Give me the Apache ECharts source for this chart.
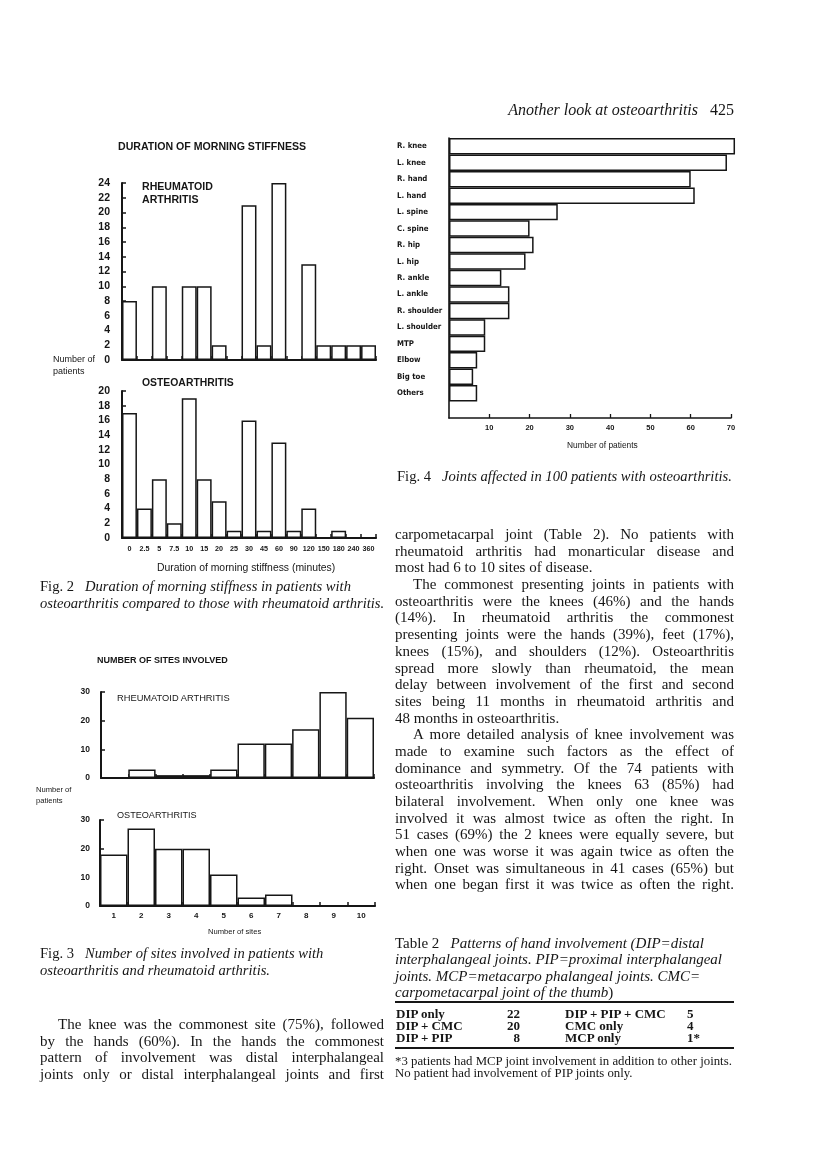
<!DOCTYPE html>
<html><head><meta charset="utf-8">
<script src="https://cdn.jsdelivr.net/npm/echarts@6/dist/echarts.min.js"></script>
<style>
html,body{margin:0;padding:0;background:#fff;}
#page{position:relative;width:816px;height:1155px;overflow:hidden;background:#fff;}
#chart{position:absolute;left:0;top:0;width:816px;height:1155px;}
.t{position:absolute;white-space:nowrap;color:#161616;}
.sans{font-family:'Liberation Sans',Arial,sans-serif;}
.serif{font-family:'Liberation Serif','Times New Roman',serif;}
.col{position:absolute;font-family:'Liberation Serif','Times New Roman',serif;font-size:15px;color:#161616;}
.col div{height:16.7px;line-height:16.7px;white-space:nowrap;}
.col div span{display:inline-block;transform-origin:0 50%;}
.col div.ind span{margin-left:18px;}
i{font-style:italic;}
.rule{position:absolute;background:#161616;}
</style>
</head><body>
<div id="page">
<div id="chart"></div>

<!-- running head -->
<div class="t serif" style="right:82px;top:101px;font-size:16px;line-height:18px;"><i>Another look at osteoarthritis</i>&nbsp;&nbsp;&nbsp;425</div>

<!-- Fig 2 texts -->
<div class="t sans" style="left:118px;top:140px;font-size:10.6px;font-weight:bold;line-height:12px;">DURATION OF MORNING STIFFNESS</div>
<div class="t sans" style="left:142px;top:180px;font-size:10.6px;font-weight:bold;line-height:12.5px;">RHEUMATOID<br>ARTHRITIS</div>
<div class="t sans" style="left:53px;top:353px;font-size:9px;line-height:12px;">Number of<br>patients</div>
<div class="t sans" style="left:142px;top:377px;font-size:10.4px;font-weight:bold;line-height:12px;">OSTEOARTHRITIS</div>
<div class="t sans" style="left:157px;top:562px;font-size:10.4px;line-height:12px;">Duration of morning stiffness (minutes)</div>
<div class="t serif" style="left:40px;top:578px;font-size:14.6px;line-height:16.7px;">Fig. 2&nbsp;&nbsp;&nbsp;<i>Duration of morning stiffness in patients with</i><br><i>osteoarthritis compared to those with rheumatoid arthritis.</i></div>

<!-- Fig 3 texts -->
<div class="t sans" style="left:97px;top:654px;font-size:9px;font-weight:bold;line-height:12px;">NUMBER OF SITES INVOLVED</div>
<div class="t sans" style="left:117px;top:692px;font-size:9.3px;line-height:12px;">RHEUMATOID ARTHRITIS</div>
<div class="t sans" style="left:36px;top:784px;font-size:7.6px;line-height:11px;">Number of<br>patients</div>
<div class="t sans" style="left:117px;top:809px;font-size:9.1px;line-height:12px;">OSTEOARTHRITIS</div>
<div class="t sans" style="left:208px;top:926px;font-size:7.6px;line-height:12px;">Number of sites</div>
<div class="t serif" style="left:40px;top:945px;font-size:14.6px;line-height:16.7px;">Fig. 3&nbsp;&nbsp;&nbsp;<i>Number of sites involved in patients with</i><br><i>osteoarthritis and rheumatoid arthritis.</i></div>

<!-- Fig 4 texts -->
<div class="t sans" style="left:567px;top:439px;font-size:8.4px;line-height:12px;">Number of patients</div>
<div class="t serif" style="left:397px;top:468px;font-size:14.6px;line-height:17px;">Fig. 4&nbsp;&nbsp;&nbsp;<i>Joints affected in 100 patients with osteoarthritis.</i></div>

<!-- Left column text -->
<div class="col" style="left:40px;top:1016px;width:344px;">
<div class="ind"><span>The knee was the commonest site (75%), followed</span></div>
<div><span>by the hands (60%). In the hands the commonest</span></div>
<div><span>pattern of involvement was distal interphalangeal</span></div>
<div><span>joints only or distal interphalangeal joints and first</span></div>
</div>

<!-- Right column text -->
<div class="col" style="left:395px;top:526px;width:339px;">
<div><span>carpometacarpal joint (Table 2). No patients with</span></div>
<div><span>rheumatoid arthritis had monarticular disease and</span></div>
<div class="last"><span>most had 6 to 10 sites of disease.</span></div>
<div class="ind"><span>The commonest presenting joints in patients with</span></div>
<div><span>osteoarthritis were the knees (46%) and the hands</span></div>
<div><span>(14%). In rheumatoid arthritis the commonest</span></div>
<div><span>presenting joints were the hands (39%), feet (17%),</span></div>
<div><span>knees (15%), and shoulders (12%). Osteoarthritis</span></div>
<div><span>spread more slowly than rheumatoid, the mean</span></div>
<div><span>delay between involvement of the first and second</span></div>
<div><span>sites being 11 months in rheumatoid arthritis and</span></div>
<div class="last"><span>48 months in osteoarthritis.</span></div>
<div class="ind"><span>A more detailed analysis of knee involvement was</span></div>
<div><span>made to examine such factors as the effect of</span></div>
<div><span>dominance and symmetry. Of the 74 patients with</span></div>
<div><span>osteoarthritis involving the knees 63 (85%) had</span></div>
<div><span>bilateral involvement. When only one knee was</span></div>
<div><span>involved it was almost twice as often the right. In</span></div>
<div><span>51 cases (69%) the 2 knees were equally severe, but</span></div>
<div><span>when one was worse it was again twice as often the</span></div>
<div><span>right. Onset was simultaneous in 41 cases (65%) but</span></div>
<div><span>when one began first it was twice as often the right.</span></div>
</div>

<!-- Table 2 -->
<div class="t serif" style="left:395px;top:935px;font-size:15px;line-height:16.3px;">Table 2&nbsp;&nbsp;&nbsp;<i>Patterns of hand involvement (DIP=distal</i><br><i>interphalangeal joints. PIP=proximal interphalangeal</i><br><i>joints. MCP=metacarpo phalangeal joints. CMC=</i><br><i>carpometacarpal joint of the thumb</i>)</div>
<div class="rule" style="left:395px;top:1001px;width:339px;height:2px;"></div>
<div class="t serif" style="left:396px;top:1008px;font-size:13px;line-height:12px;font-weight:bold;">DIP only<br>DIP + CMC<br>DIP + PIP</div>
<div class="t serif" style="left:480px;width:40px;text-align:right;top:1008px;font-size:13px;line-height:12px;font-weight:bold;">22<br>20<br>8</div>
<div class="t serif" style="left:565px;top:1008px;font-size:13px;line-height:12px;font-weight:bold;">DIP + PIP + CMC<br>CMC only<br>MCP only</div>
<div class="t serif" style="left:687px;top:1008px;font-size:13px;line-height:12px;font-weight:bold;">5<br>4<br>1*</div>
<div class="rule" style="left:395px;top:1047px;width:339px;height:2px;"></div>
<div class="t serif" style="left:395px;top:1055px;font-size:12.8px;line-height:12px;">*3 patients had MCP joint involvement in addition to other joints.<br>No patient had involvement of PIP joints only.</div>
</div>

<script>
// ---- Data ----
const durationCats = ['0','2.5','5','7.5','10','15','20','25','30','45','60','90','120','150','180','240','360'];
const raDuration   = [8, 0, 10, 0, 10, 10, 2, 0, 21, 2, 24, 0, 13, 2, 2, 2, 2];
const oaDuration   = [17, 4, 8, 2, 19, 8, 5, 1, 16, 1, 13, 1, 4, 0, 1, 0, 0];
const siteCats = ['1','2','3','4','5','6','7','8','9','10'];
const raSites  = [0, 3, 1, 1, 3, 12, 12, 17, 30, 21];
const oaSites  = [18, 27, 20, 20, 11, 3, 4, 0, 0, 0];
const jointNames  = ['R. knee','L. knee','R. hand','L. hand','L. spine','C. spine','R. hip','L. hip','R. ankle','L. ankle','R. shoulder','L. shoulder','MTP','Elbow','Big toe','Others'];
const jointCounts = [71, 69, 60, 61, 27, 20, 21, 19, 13, 15, 15, 9, 9, 7, 6, 7];

// ---- justify body text lines to column width ----
(function fitLines(){
  document.querySelectorAll('.col').forEach(function(col){
    const W = col.clientWidth;
    col.querySelectorAll('div').forEach(function(div){
      const span = div.firstElementChild;
      const ind = div.classList.contains('ind') ? 18 : 0;
      const avail = W - ind;
      const w = span.getBoundingClientRect().width;
      const justify = !div.classList.contains('last');
      if (w > avail) {
        span.style.transform = 'scaleX(' + (avail / w) + ')';
      } else if (justify) {
        const n = (span.textContent.match(/ /g) || []).length;
        if (n) span.style.wordSpacing = ((avail - w) / n) + 'px';
      }
    });
  });
})();

// ---- Styling helpers ----
const ink = '#161616';
const sans = 'Liberation Sans';
function histX(gi, cats, showLabels, fontSize, margin){
  return {gridIndex: gi, type: 'category', data: cats, boundaryGap: true,
    axisLine: {show: true, lineStyle: {color: ink, width: 2.2}},
    axisTick: {show: true, inside: true, length: 4, interval: 0, lineStyle: {color: ink, width: 1.5}},
    axisLabel: {show: showLabels, interval: 0, color: ink, fontSize: fontSize, fontWeight: 'bold', margin: margin, fontFamily: sans},
    splitLine: {show: false}};
}
function histY(gi, max, interval, fontSize, margin){
  return {gridIndex: gi, type: 'value', min: 0, max: max, interval: interval,
    axisLine: {show: true, lineStyle: {color: ink, width: 2}},
    axisTick: {show: true, inside: true, length: 4, lineStyle: {color: ink, width: 1.5}},
    splitLine: {show: false},
    axisLabel: {color: ink, fontSize: fontSize, fontWeight: 'bold', margin: margin, fontFamily: sans}};
}
function bars(xi, yi, data){
  return {type: 'bar', xAxisIndex: xi, yAxisIndex: yi, data: data, barCategoryGap: '0%', clip: false, silent: true,
    itemStyle: {color: '#ffffff', borderColor: ink, borderWidth: 1.5}};
}

const chart = echarts.init(document.getElementById('chart'), null, {renderer: 'canvas'});
chart.setOption({
  animation: false,
  backgroundColor: 'transparent',
  grid: [
    {left: 122, top: 183, width: 254, height: 177},
    {left: 122, top: 391, width: 254, height: 147},
    {left: 101, top: 692, width: 273, height: 86},
    {left: 100, top: 820, width: 275, height: 86},
    {left: 449, top: 138, width: 282, height: 280}
  ],
  xAxis: [
    histX(0, durationCats, false, 7.2, 8),
    histX(1, durationCats, true, 7.2, 8),
    histX(2, siteCats, false, 8, 6),
    histX(3, siteCats, true, 8, 6),
    {gridIndex: 4, type: 'value', min: 0, max: 70, interval: 10,
      axisLine: {show: true, lineStyle: {color: ink, width: 1.6}},
      axisTick: {show: true, inside: true, length: 4, lineStyle: {color: ink, width: 1.3}},
      splitLine: {show: false},
      axisLabel: {color: ink, fontSize: 7.5, fontWeight: 'bold', margin: 6, fontFamily: sans, showMinLabel: false,
        formatter: function(v){ return v === 0 ? '' : String(v); }}}
  ],
  yAxis: [
    histY(0, 24, 2, 10.5, 12),
    histY(1, 20, 2, 10.5, 12),
    histY(2, 30, 10, 8.5, 11),
    histY(3, 30, 10, 8.5, 10),
    {gridIndex: 4, type: 'category', inverse: true, data: jointNames.concat(['']), boundaryGap: true,
      axisLine: {show: true, lineStyle: {color: ink, width: 1.6}},
      axisTick: {show: false},
      axisLabel: {interval: 0, align: 'left', margin: 52, color: ink, fontSize: 7.8, fontWeight: 'bold',
        fontFamily: "'Liberation Sans Narrow', 'DejaVu Sans Condensed', 'Liberation Sans'"}}
  ],
  series: [
    bars(0, 0, raDuration),
    bars(1, 1, oaDuration),
    bars(2, 2, raSites),
    bars(3, 3, oaSites),
    bars(4, 4, jointCounts)
  ]
});
</script>
</body></html>
